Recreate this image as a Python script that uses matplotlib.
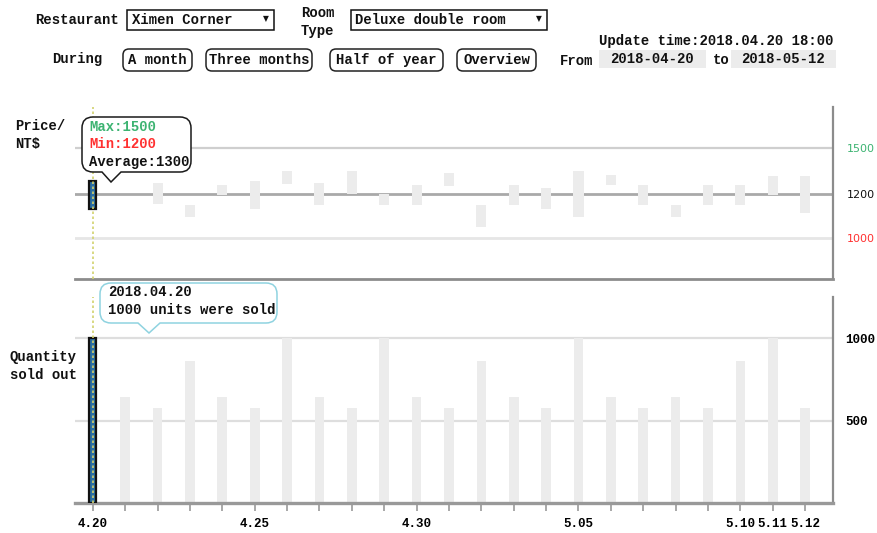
import numpy as np
import matplotlib
matplotlib.use("Agg")
import matplotlib.pyplot as plt
from matplotlib.path import Path
from matplotlib.patches import PathPatch, FancyBboxPatch, Rectangle

# ---- data -------------------------------------------------------------
days = ['4.20', '4.21', '4.22', '4.23', '4.24', '4.25', '4.26', '4.27', '4.28',
        '4.29', '4.30', '5.01', '5.02', '5.03', '5.04', '5.05', '5.06', '5.07',
        '5.08', '5.09', '5.10', '5.11', '5.12']
nan = np.nan
price_low = [1135, nan, 1155, 1095, 1195, 1135, 1265, 1150, 1200, 1150, 1150,
             1255, 1050, 1150, 1135, 1095, 1260, 1150, 1095, 1150, 1150, 1195, 1115]
price_high = [1285, nan, 1275, 1150, 1260, 1285, 1350, 1275, 1350, 1200, 1260,
              1335, 1150, 1260, 1240, 1350, 1325, 1260, 1150, 1260, 1260, 1315, 1315]
quantity = [1000, 645, 575, 860, 645, 575, 1000, 645, 575, 1000, 645, 575,
            860, 645, 575, 1000, 645, 575, 645, 575, 860, 1000, 575]
labeled_days = ['4.20', '4.25', '4.30', '5.05', '5.10', '5.11', '5.12']
price_ticks = [1000, 1200, 1500]
price_tick_colors = ['#ff3030', '#111111', '#3cb371']
qty_ticks = [500, 1000]

selected = 0
sel_date = '2018.04.20'
sel_max, sel_min, sel_avg = 1500, 1200, 1300

MONO = ['Liberation Mono', 'DejaVu Sans']
W, H = 877, 533

fig = plt.figure(figsize=(W / 100, H / 100), dpi=100)
fig.patch.set_facecolor('white')


def fx(px):
    return px / W


def fy(py):
    return 1 - py / H


# ---- price axis (piecewise scale around the reference lines) ----------
_pv = [0, 1000, 1200, 1500, 3000]
_pp = [-220.0, 0.0, 44.0, 90.6, 323.6]


def _fwd(v):
    return np.interp(v, _pv, _pp)


def _inv(p):
    return np.interp(p, _pp, _pv)


x = np.arange(len(days))
xlim = (-0.55, 22.86)

ax1 = fig.add_axes([fx(75), fy(279), fx(833) - fx(75), fy(107) - fy(279)])
ax1.set_yscale('function', functions=(_fwd, _inv))
ax1.set_ylim(815, 1762)
ax1.set_xlim(*xlim)

ax1.axhline(1500, color='#cfcfcf', lw=1.6, zorder=0.5)
ax1.axhline(1200, color='#a9a9a9', lw=2.0, zorder=0.5)
ax1.axhline(1000, color='#e6e6e6', lw=2.0, zorder=0.5)

lo = np.array(price_low, dtype=float)
hi = np.array(price_high, dtype=float)
grey = [i for i in range(len(days)) if i != selected and not np.isnan(lo[i])]
ax1.bar(x[grey], hi[grey] - lo[grey], bottom=lo[grey], width=0.31,
        color='#ececec', zorder=2)
ax1.bar([x[selected]], [hi[selected] - lo[selected]], bottom=[lo[selected]],
        width=0.22, color='#2b6ea3', edgecolor='#111111', lw=1.6, zorder=3)
ax1.axvline(x[selected], color='#d2d26e', lw=1.2, ls=(0, (1.5, 1.5)), zorder=4)

for s in ('left', 'top'):
    ax1.spines[s].set_visible(False)
ax1.spines['bottom'].set_color('#8c8c8c')
ax1.spines['bottom'].set_linewidth(2)
ax1.spines['right'].set_color('#8c8c8c')
ax1.spines['right'].set_linewidth(1.6)
ax1.tick_params(axis='x', bottom=False, labelbottom=False)
ax1.yaxis.tick_right()
ax1.set_yticks(price_ticks)
ax1.set_yticklabels([str(t) for t in price_ticks], family='DejaVu Sans', fontsize=8)
ax1.yaxis.set_minor_locator(matplotlib.ticker.NullLocator())
ax1.tick_params(axis='y', length=0, pad=10)
for lab, c in zip(ax1.get_yticklabels(), price_tick_colors):
    lab.set_color(c)

# ---- quantity axis ----------------------------------------------------
ax2 = fig.add_axes([fx(75), fy(503), fx(833) - fx(75), fy(297) - fy(503)])
ax2.set_ylim(0, 1250)
ax2.set_xlim(*xlim)
for v in qty_ticks:
    ax2.axhline(v, color='#dedede', lw=1.6, zorder=0.5)

q = np.array(quantity, dtype=float)
others = [i for i in range(len(days)) if i != selected]
ax2.bar(x[others], q[others], width=0.3, color='#ececec', zorder=2)
ax2.bar([x[selected]], [q[selected]], width=0.22, color='#2b6ea3',
        edgecolor='#111111', lw=1.6, zorder=3)
ax2.axvline(x[selected], color='#d2d26e', lw=1.2, ls=(0, (1.5, 1.5)), zorder=4)

for s in ('left', 'top'):
    ax2.spines[s].set_visible(False)
ax2.spines['bottom'].set_color('#999999')
ax2.spines['bottom'].set_linewidth(2.4)
ax2.spines['right'].set_color('#8c8c8c')
ax2.spines['right'].set_linewidth(1.6)
ax2.set_xticks(x)
ax2.set_xticklabels([d if d in labeled_days else '' for d in days],
                    family=MONO, fontweight='bold', fontsize=9)
ax2.tick_params(axis='x', length=6, width=1.2, color='#9a9a9a', pad=5)
ax2.yaxis.tick_right()
ax2.set_yticks(qty_ticks)
ax2.set_yticklabels([str(t) for t in qty_ticks], family=MONO,
                    fontweight='bold', fontsize=9)
ax2.tick_params(axis='y', length=0, pad=9)

# ---- overlay in pixel coordinates: controls, labels and tooltips ------
ov = fig.add_axes([0, 0, 1, 1], zorder=10)
ov.set_xlim(0, W)
ov.set_ylim(H, 0)
ov.axis('off')
ov.patch.set_alpha(0)


def txt(x0, y0, s, ha='left', color='#111111', size=10):
    ov.text(x0, y0, s, ha=ha, va='center', color=color, family=MONO,
            fontweight='bold', fontsize=size)


# controls row 1
txt(35, 20, 'Restaurant')
ov.add_patch(Rectangle((127, 10), 147, 20, fill=False, ec='#111111', lw=1.1))
txt(132, 20, 'Ximen Corner')
ov.text(266, 19, '\u25bc', ha='center', va='center', fontsize=5.5,
        family=['DejaVu Sans'], color='#111111')
txt(301, 13, 'Room')
txt(301, 31, 'Type')
ov.add_patch(Rectangle((351, 10), 196, 20, fill=False, ec='#111111', lw=1.1))
txt(355, 19.5, 'Deluxe double room')
ov.text(539, 19, '\u25bc', ha='center', va='center', fontsize=5.5,
        family=['DejaVu Sans'], color='#111111')
txt(599, 40.5, 'Update time:2018.04.20 18:00')

# controls row 2
txt(52, 58.5, 'During')
buttons = [('A month', 123, 192), ('Three months', 206, 312),
           ('Half of year', 330, 443), ('Overview', 457, 536)]
for label, bx0, bx1 in buttons:
    ov.add_patch(FancyBboxPatch((bx0, 49), bx1 - bx0, 22,
                                boxstyle='round,pad=0,rounding_size=6',
                                fill=False, ec='#222222', lw=1.1))
    txt((bx0 + bx1) / 2, 60, label, ha='center')

txt(560, 61, 'From')
ov.add_patch(Rectangle((599, 49.5), 107, 18, fc='#ececec', ec='none'))
txt(652, 59, '2018-04-20', ha='center')
txt(713, 60, 'to')
ov.add_patch(Rectangle((731, 49.5), 105, 18, fc='#ececec', ec='none'))
txt(783.5, 59, '2018-05-12', ha='center')

# axis titles
txt(15, 126, 'Price/')
txt(15, 144, 'NT$')
txt(10, 356.5, 'Quantity')
txt(10, 375, 'sold out')


def bubble(x0, y0, x1, y1, r, bx0, bx1, tx, ty, ec):
    M, L, C, Z = Path.MOVETO, Path.LINETO, Path.CURVE3, Path.CLOSEPOLY
    verts = [(x0 + r, y0), (x1 - r, y0), (x1, y0), (x1, y0 + r),
             (x1, y1 - r), (x1, y1), (x1 - r, y1),
             (bx1, y1), (tx, ty), (bx0, y1),
             (x0 + r, y1), (x0, y1), (x0, y1 - r),
             (x0, y0 + r), (x0, y0), (x0 + r, y0), (x0 + r, y0)]
    codes = [M, L, C, C, L, C, C, L, L, L, L, C, C, L, C, C, Z]
    ov.add_patch(PathPatch(Path(verts, codes), fc='white', ec=ec, lw=1.1))


# price tooltip
bubble(82, 117, 191, 172, 11, 102, 121, 111, 182, '#1a1a1a')
txt(89, 127, f'Max:{sel_max}', color='#3cb371')
txt(89, 144.5, f'Min:{sel_min}', color='#ff3030')
txt(89, 162, f'Average:{sel_avg}')

# quantity tooltip
bubble(100, 283, 277, 323, 11, 138, 160, 149, 333, '#8fd3e0')
txt(108, 292, sel_date)
txt(108, 309.5, f'{int(quantity[selected])} units were sold')

fig.savefig('out.png', dpi=100, facecolor='white')
